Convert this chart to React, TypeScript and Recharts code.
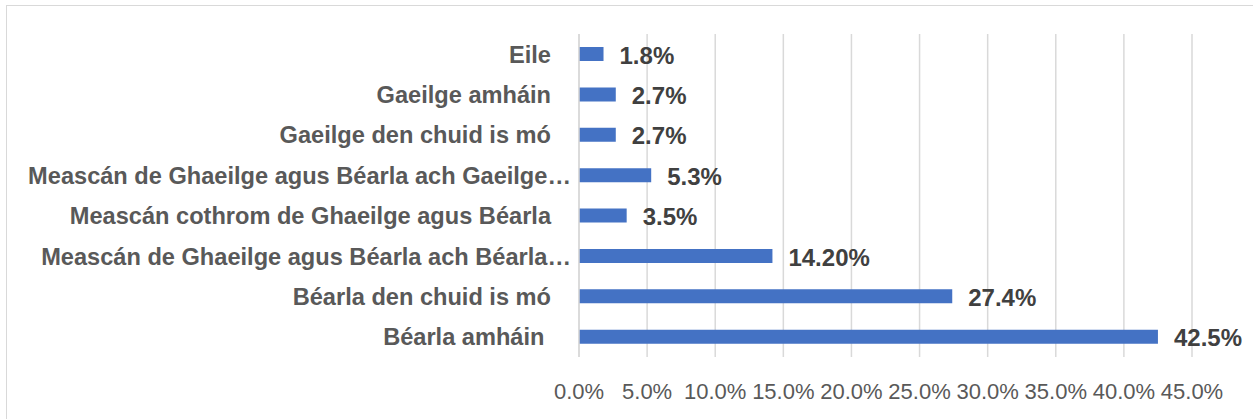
import React from "react";
import { BarChart, Bar, XAxis, YAxis, CartesianGrid, LabelList } from "recharts";

const categories = [
  "Eile",
  "Gaeilge amháin",
  "Gaeilge den chuid is mó",
  "Meascán de Ghaeilge agus Béarla ach Gaeilge…",
  "Meascán cothrom de Ghaeilge agus Béarla",
  "Meascán de Ghaeilge agus Béarla ach Béarla…",
  "Béarla den chuid is mó",
  "Béarla amháin ",
];
const values = [1.8, 2.7, 2.7, 5.3, 3.5, 14.2, 27.4, 42.5];
const valueLabels = ["1.8%", "2.7%", "2.7%", "5.3%", "3.5%", "14.20%", "27.4%", "42.5%"];
const xTicks = [0, 5, 10, 15, 20, 25, 30, 35, 40, 45];

const data = categories.map((c, i) => ({ name: c, value: values[i], label: valueLabels[i] }));

const FONT = "'Liberation Sans', Arial, sans-serif";

const YTick = (props: any) => {
  const { x, y, payload } = props;
  const txt: string = payload.value;
  const shift = txt.endsWith("…") ? 20 : 0;
  return (
    <text
      x={x + shift}
      y={y}
      dy="0.36em"
      textAnchor="end"
      fill="#595959"
      fontFamily={FONT}
      fontWeight="bold"
      fontSize={23.6}
      style={{ whiteSpace: "pre" }}
    >
      {txt}
    </text>
  );
};

const XTick = (props: any) => {
  const { x, y, payload } = props;
  return (
    <text x={x} y={y} dy="0.72em" textAnchor="middle" fill="#595959" fontFamily={FONT} fontSize={22}>
      {payload.value.toFixed(1) + "%"}
    </text>
  );
};

const ValueLabel = (props: any) => {
  const { x, y, width, height, index } = props;
  return (
    <text
      x={x + width + 16}
      y={y + height / 2 + 1}
      dy="0.36em"
      textAnchor="start"
      fill="#404040"
      fontFamily={FONT}
      fontWeight="bold"
      fontSize={24}
    >
      {valueLabels[index]}
    </text>
  );
};

export default function App() {
  return (
    <div style={{ position: "fixed", left: 0, top: 0, width: 1253, height: 419, overflow: "hidden", background: "#fff" }}>
      <div
        style={{
          position: "absolute",
          left: 6,
          top: 5,
          width: 1400,
          height: 600,
          border: "1px solid #D9D9D9",
          boxSizing: "border-box",
        }}
      />
      <div style={{ position: "absolute", left: 0, top: 0 }}>
        <BarChart
          width={1253}
          height={419}
          data={data}
          layout="vertical"
          margin={{ top: 34, right: 61, bottom: 0, left: 0 }}
          barCategoryGap={0}
        >
          <CartesianGrid horizontal={false} stroke="#D9D9D9" strokeWidth={1.5} />
          <XAxis
            type="number"
            domain={[0, 45]}
            ticks={xTicks}
            height={62}
            axisLine={false}
            tickLine={false}
            tickSize={0}
            tickMargin={26}
            tick={<XTick />}
            interval={0}
          />
          <YAxis
            type="category"
            dataKey="name"
            width={579}
            axisLine={{ stroke: "#D9D9D9", strokeWidth: 1.5 }}
            tickLine={false}
            tickSize={0}
            tickMargin={28}
            tick={<YTick />}
            interval={0}
          />
          <Bar dataKey="value" fill="#4472C4" barSize={14} isAnimationActive={false}>
            <LabelList dataKey="label" content={<ValueLabel />} />
          </Bar>
        </BarChart>
      </div>
    </div>
  );
}
